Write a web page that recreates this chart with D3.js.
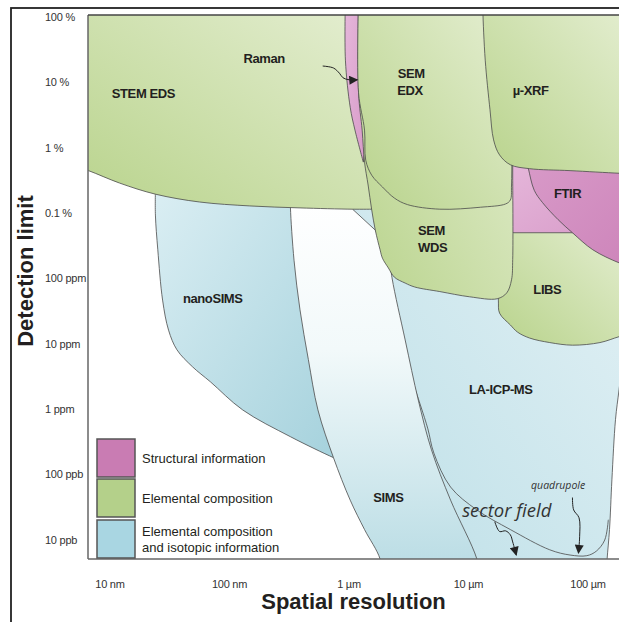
<!DOCTYPE html>
<html>
<head>
<meta charset="utf-8">
<script src="https://cdn.jsdelivr.net/npm/d3@7"></script>
<style>
  body { margin:0; background:#fff; }
  text { font-family: 'Liberation Sans', Arial, sans-serif; fill:#231f20; }
  .tick-label { font-size:11px; fill:#333; letter-spacing:-0.25px; }
  .region-label { font-size:13px; font-weight:700; letter-spacing:-0.4px; }
  .note { font-family:'Open Sans', sans-serif; font-style:italic; fill:#333; }
  .legend-text { font-size:13px; }
  .axis-title { font-size:22px; font-weight:700; }
  .edge { stroke:#4a4a4a; stroke-width:0.8; }
</style>
</head>
<body>
<script>
// axis ticks: detection limit in ppm, spatial resolution in nm
var yTicks = [1e6, 1e5, 1e4, 1e3, 100, 10, 1, 0.1, 0.01];
var yTickLabels = ["100 %", "10 %", "1 %", "0.1 %", "100 ppm", "10 ppm", "1 ppm", "100 ppb", "10 ppb"];
var xTicks = [10, 100, 1000, 1e4, 1e5];
var xTickLabels = ["10 nm", "100 nm", "1 µm", "10 µm", "100 µm"];

// region outlines as [log10(nm), log10(ppm)]
// *Edge = drawn smooth boundary, *Close = straight closing part (hidden or off-plot)
var laEdge = [[5.30,0.9],[5.26,0.30],[5.23,-0.16],[5.20,-1.08],[5.18,-1.84],[5.16,-2.29],[5.15,-2.6]];
var laClose = [[3.5,-2.6],[3.0,2.9],[3.02,3.1],[5.40,3.1],[5.40,0.9]];

var quadrupoleLine = [[3.50,0.60],[3.60,0.05],[3.66,-0.30],[3.71,-0.67],[3.85,-1.19],[4.07,-1.54],[4.35,-1.84],[4.68,-2.15],[4.85,-2.23],[4.99,-2.24],[5.07,-2.17],[5.14,-2.00],[5.17,-1.69]];

var nanoSimsEdge = [[1.38,3.35],[1.38,2.97],[1.40,2.44],[1.44,1.67],[1.49,1.21],[1.56,0.91],[1.69,0.65],[1.84,0.42],[2.11,-0.01],[2.51,-0.42],[2.87,-0.74],[2.95,-0.80]];
var nanoSimsClose = [[2.8,3.35]];

var simsEdge = [[2.51,3.25],[2.51,3.08],[2.54,2.28],[2.59,1.52],[2.66,0.76],[2.74,-0.01],[2.87,-0.74],[3.01,-1.39],[3.13,-1.84],[3.26,-2.29],[3.28,-2.6],[3.3,-3.3],[4.1,-3.3],[4.1,-2.6],[4.07,-2.29],[3.85,-1.39],[3.69,-0.62],[3.58,0.14],[3.47,1.06],[3.36,2.01],[3.33,2.44]];
var simsClose = [[3.22,2.74],[3.03,3.06],[3.03,3.25]];

var stemEdsEdge = [[3.21,3.06],[3.03,3.06],[2.59,3.08],[2.17,3.11],[1.75,3.17],[1.38,3.29],[1.08,3.46],[0.82,3.65],[0.7,3.72]];
var stemEdsClose = [[0.7,6.3],[3.21,6.3]];

var ramanEdge = [[2.97,6.3],[2.97,5.34],[3.01,4.62],[3.05,4.27],[3.12,3.78]];
var ramanClose = [[3.14,4.12],[3.11,5.34],[3.11,6.3]];

var libsEdge = [[4.24,2.90],[4.24,2.28],[4.25,1.67],[4.26,1.47],[4.35,1.29],[4.41,1.18],[4.51,1.09],[4.68,1.02],[4.87,0.98],[5.10,1.02],[5.26,1.11],[5.35,1.15]];
var libsClose = [[5.35,2.9]];

var ftirEdge = [[4.36,3.9],[4.36,2.70]];
var ftirClose = [[5.40,2.70],[5.40,3.9]];

var ftirDarkEdge = [[4.48,3.85],[4.50,3.69],[4.55,3.35],[4.62,3.16],[4.75,2.90],[4.87,2.70],[5.04,2.44],[5.26,2.24],[5.40,2.16]];
var ftirDarkClose = [[5.40,3.85]];

var semWdsEdge = [[3.08,6.3],[3.08,4.84],[3.11,4.27],[3.13,3.78],[3.16,3.43],[3.19,3.05],[3.22,2.74],[3.26,2.44],[3.28,2.31],[3.33,2.16],[3.38,2.02],[3.47,1.93],[3.55,1.87],[3.76,1.80],[4.01,1.72],[4.24,1.69],[4.32,1.78],[4.36,1.98],[4.37,2.29],[4.37,3.5]];
var semWdsClose = [[4.37,6.3]];

var semEdxEdge = [[3.08,6.3],[3.08,4.84],[3.13,4.27],[3.14,3.81],[3.19,3.58],[3.28,3.40],[3.38,3.23],[3.49,3.13],[3.76,3.06],[4.10,3.09],[4.31,3.14],[4.35,3.20],[4.36,3.43],[4.36,6.3]];
var semEdxClose = [];

var xrfEdge = [[4.12,6.3],[4.12,6.11],[4.14,5.34],[4.18,4.58],[4.21,4.12],[4.26,3.89],[4.35,3.74],[4.51,3.68],[4.85,3.65],[5.26,3.61],[5.40,3.60]];
var xrfClose = [[5.40,6.3]];

// annotation arrows
var ramanArrow = [[2.78,5.25],[2.87,5.22],[2.92,5.14],[2.95,5.07],[3.00,5.04],[3.07,5.04]];
var sectorArrow = [[4.22,-1.72],[4.26,-1.87],[4.31,-1.86],[4.35,-1.92],[4.37,-2.03],[4.40,-2.23]];
var quadArrow = [[4.87,-1.35],[4.88,-1.54],[4.925,-1.66],[4.93,-1.95],[4.92,-2.20]];

// labels
var regionLabels = ["STEM EDS", "Raman", "SEM", "EDX", "µ-XRF", "FTIR", "SEM", "WDS", "LIBS", "nanoSIMS", "LA-ICP-MS", "SIMS"];
var regionLabelPos = [[1.28,4.84],[2.29,5.37],[3.52,5.14],[3.51,4.88],[4.52,4.88],[4.83,3.31],[3.69,2.74],[3.70,2.48],[4.66,1.83],[1.86,1.69],[4.27,0.31],[3.33,-1.35]];

var legendLabels = [["Structural information"], ["Elemental composition"], ["Elemental composition", "and isotopic information"]];

var width = 619, height = 622;
var plot = {left: 88, right: 619, top: 15, bottom: 559};

var x = d3.scaleLog().domain([10, 1e5]).range([110, 588]);
var y = d3.scaleLog().domain([1e6, 0.01]).range([17, 540]);
var px = p => [x(Math.pow(10, p[0])), y(Math.pow(10, p[1]))];

var smooth = d3.line().curve(d3.curveCatmullRom.alpha(0.5));

function regionPath(edge, close) {
  var d = smooth(edge.map(px));
  close.forEach(function(p) { var q = px(p); d += "L" + q[0] + "," + q[1]; });
  return d + "Z";
}

var svg = d3.select("body").append("svg")
  .attr("width", width)
  .attr("height", height);

var defs = svg.append("defs");
defs.append("clipPath").attr("id", "plotClip")
  .append("rect")
  .attr("x", plot.left).attr("y", plot.top)
  .attr("width", plot.right - plot.left).attr("height", plot.bottom - plot.top);

function grad(id, x1, y1, x2, y2, stops) {
  var g = defs.append("linearGradient").attr("id", id)
    .attr("x1", x1).attr("y1", y1).attr("x2", x2).attr("y2", y2);
  stops.forEach(s => g.append("stop").attr("offset", s[0]).attr("stop-color", s[1]));
}
grad("gGreen", 0, 1, 1, 0, [[0, "#b8d38b"], [1, "#e6efd4"]]);
grad("gNano", 0, 0, 1, 1, [[0, "#daeef3"], [1, "#a4d1dc"]]);
grad("gSims", 0, 0, 0, 1, [[0, "#ffffff"], [0.35, "#f2f9fa"], [1, "#a9d4de"]]);
grad("gLa", 1, 0, 0, 1, [[0, "#e3f1f5"], [1, "#bcdfe7"]]);
grad("gPink", 0, 0, 1, 1, [[0, "#e6b8db"], [1, "#d79ac8"]]);
grad("gPinkDark", 0, 0, 1, 1, [[0, "#d89ac8"], [1, "#cd84ba"]]);

defs.append("marker").attr("id", "arrow")
  .attr("viewBox", "0 0 10 10").attr("refX", 9).attr("refY", 5)
  .attr("markerUnits", "userSpaceOnUse")
  .attr("markerWidth", 10).attr("markerHeight", 9)
  .attr("orient", "auto")
  .append("path").attr("d", "M0,0L10,5L0,10Z").attr("fill", "#222");

// outer frame
svg.append("rect")
  .attr("x", 11).attr("y", 8).attr("width", 640).attr("height", 640)
  .attr("fill", "none").attr("stroke", "#222").attr("stroke-width", 1.8);

var regions = svg.append("g").attr("clip-path", "url(#plotClip)");

var layers = [
  {edge: laEdge, close: laClose, fill: "url(#gLa)"},
  {line: quadrupoleLine},
  {edge: nanoSimsEdge, close: nanoSimsClose, fill: "url(#gNano)"},
  {edge: simsEdge, close: simsClose, fill: "url(#gSims)"},
  {edge: stemEdsEdge, close: stemEdsClose, fill: "url(#gGreen)"},
  {edge: ramanEdge, close: ramanClose, fill: "url(#gPink)"},
  {edge: libsEdge, close: libsClose, fill: "url(#gGreen)"},
  {edge: ftirEdge, close: ftirClose, fill: "url(#gPink)"},
  {edge: ftirDarkEdge, close: ftirDarkClose, fill: "url(#gPinkDark)"},
  {edge: semWdsEdge, close: semWdsClose, fill: "url(#gGreen)"},
  {edge: semEdxEdge, close: semEdxClose, fill: "url(#gGreen)"},
  {edge: xrfEdge, close: xrfClose, fill: "url(#gGreen)"}
];

layers.forEach(function(l) {
  if (l.line) {
    regions.append("path").attr("class", "edge")
      .attr("d", smooth(l.line.map(px))).attr("fill", "none");
  } else {
    regions.append("path").attr("class", "edge")
      .attr("d", regionPath(l.edge, l.close))
      .attr("fill", l.fill);
  }
});

// plot frame lines
svg.append("line").attr("x1", plot.left).attr("x2", plot.left).attr("y1", plot.top).attr("y2", plot.bottom)
  .attr("stroke", "#666").attr("stroke-width", 1.5);
svg.append("line").attr("x1", plot.left).attr("x2", 625).attr("y1", plot.bottom).attr("y2", plot.bottom)
  .attr("stroke", "#666").attr("stroke-width", 1.5);
svg.append("line").attr("x1", plot.left).attr("x2", 625).attr("y1", plot.top).attr("y2", plot.top)
  .attr("stroke", "#444").attr("stroke-width", 1.5);

// arrows
[ramanArrow, sectorArrow, quadArrow].forEach(function(a) {
  svg.append("path").attr("d", smooth(a.map(px)))
    .attr("fill", "none").attr("stroke", "#222").attr("stroke-width", 1)
    .attr("marker-end", "url(#arrow)");
});

// region labels
svg.append("g").selectAll("text")
  .data(regionLabels)
  .enter().append("text")
    .attr("class", "region-label")
    .attr("text-anchor", "middle")
    .attr("x", (d, i) => px(regionLabelPos[i])[0])
    .attr("y", (d, i) => px(regionLabelPos[i])[1])
    .attr("dy", "0.36em")
    .text(d => d);

svg.append("text").attr("class", "note")
  .attr("x", px([4.32, -1.57])[0]).attr("y", px([4.32, -1.57])[1])
  .attr("dy", "0.3em").attr("text-anchor", "middle")
  .style("font-size", "18.5px")
  .text("sector field");
svg.append("text").attr("class", "note")
  .attr("x", px([4.75, -1.17])[0]).attr("y", px([4.75, -1.17])[1])
  .attr("dy", "0.35em").attr("text-anchor", "middle")
  .style("font-size", "10.5px")
  .text("quadrupole");

// tick labels
svg.append("g").selectAll("text")
  .data(yTicks)
  .enter().append("text")
    .attr("class", "tick-label")
    .attr("x", 45)
    .attr("y", d => y(d))
    .attr("dy", "0.35em")
    .text((d, i) => yTickLabels[i]);

svg.append("g").selectAll("text")
  .data(xTicks)
  .enter().append("text")
    .attr("class", "tick-label")
    .attr("text-anchor", "middle")
    .attr("x", d => x(d))
    .attr("y", 584)
    .attr("dy", "0.35em")
    .text((d, i) => xTickLabels[i]);

// axis titles
svg.append("text").attr("class", "axis-title")
  .attr("text-anchor", "middle")
  .attr("transform", "translate(33,271) rotate(-90)")
  .text("Detection limit");
svg.append("text").attr("class", "axis-title")
  .attr("text-anchor", "middle")
  .attr("x", 353.5).attr("y", 609)
  .text("Spatial resolution");

// legend
var legendColours = ["#c97cb3", "#b4d08a", "#a9d6e2"];
var legend = svg.append("g");
legendColours.forEach(function(c, i) {
  var top = [439, 479, 520][i];
  legend.append("rect")
    .attr("x", 97).attr("y", top).attr("width", 38).attr("height", 38)
    .attr("fill", c).attr("stroke", "#555").attr("stroke-width", 1.5);
  var lines = legendLabels[i];
  lines.forEach(function(t, j) {
    legend.append("text").attr("class", "legend-text")
      .attr("x", 142)
      .attr("y", top + 19 + (j - (lines.length - 1) / 2) * 16)
      .attr("dy", "0.35em")
      .text(t);
  });
});
</script>
</body>
</html>
